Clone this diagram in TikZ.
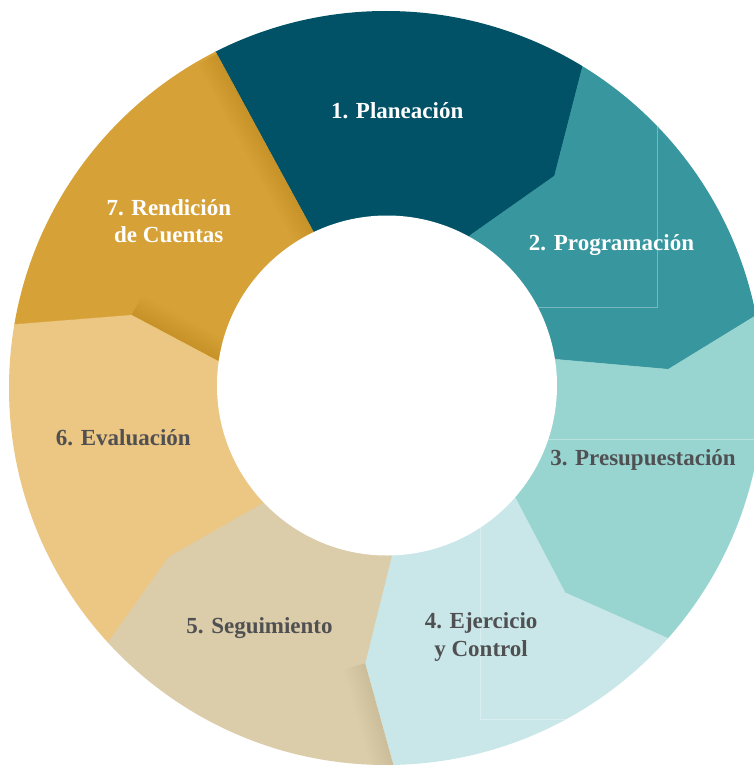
\documentclass[tikz,border=0pt]{standalone}
\usepackage{fontspec}
\setmainfont{Liberation Serif}
\usetikzlibrary{calc}
\definecolor{cone}{HTML}{015267}
\definecolor{ctwo}{HTML}{37969E}
\definecolor{cthree}{HTML}{98D5D1}
\definecolor{cfour}{HTML}{C9E7E8}
\definecolor{cfive}{HTML}{DBCDAA}
\definecolor{csix}{HTML}{ECC683}
\definecolor{cseven}{HTML}{D6A238}
\definecolor{labgray}{HTML}{505052}
\begin{document}
\begin{tikzpicture}[x=1pt,y=-1pt,
  seglabel/.style={font=\bfseries\fontsize{23}{27.7}\selectfont, align=center, anchor=base, inner sep=0pt},
  lightlab/.style={seglabel, text=white},
  darklab/.style={seglabel, text=labgray},
  faintline/.style={draw=white, draw opacity=0.32, line width=0.6pt},
  shadowline/.style={draw=black, draw opacity=0.0045, line width=#1, line join=round, line cap=butt},
  segfill/.style={fill=#1, draw=#1, line width=0.4pt, line join=round}]
\useasboundingbox (0,0) rectangle (754,765);
\coordinate (O) at (386,388);
\coordinate (IC) at (387,385.5);
% boundaries: inner, bend, outer
\coordinate (i71) at (313.3,231.7); \coordinate (b71) at (265,143); \coordinate (o71) at (216.7,54);
\coordinate (i12) at (470,235.5);   \coordinate (b12) at (554.5,176);  \coordinate (o12) at (581.7,70);
\coordinate (i23) at (555,359.3);   \coordinate (b23) at (668.3,369.3);\coordinate (o23) at (756,315.5);
\coordinate (i34) at (515,497.3);   \coordinate (b34) at (565,592.7);  \coordinate (o34) at (670,639.3);
\coordinate (i45) at (391.7,556);   \coordinate (b45) at (365,663.3);  \coordinate (o45) at (393.3,765);
\coordinate (i56) at (261.7,503.3); \coordinate (b56) at (168.3,556.7);\coordinate (o56) at (106.7,643.3);
\coordinate (i67) at (218.3,360.7); \coordinate (b67) at (131.7,314.7);\coordinate (o67) at (15,324);
\foreach \n in {71,12,23,34,45,56,67} {\coordinate (f\n) at ($(o\n)!-150pt!(b\n)$);}
\coordinate (F1) at (400,-400);
\coordinate (F2) at (900,-100);
\coordinate (F3) at (1000,500);
\coordinate (F4) at (700,1000);
\coordinate (F5) at (200,1000);
\coordinate (F6) at (-300,550);
\coordinate (F7) at (-250,-100);
\begin{scope}
  \clip (O) circle[radius=377pt];
  \path[segfill=cone]   (O) -- (i71) -- (b71) -- (o71) -- (f71) -- (F1) -- (f12) -- (o12) -- (b12) -- (i12) -- cycle;
  \path[segfill=ctwo]   (O) -- (i12) -- (b12) -- (o12) -- (f12) -- (F2) -- (f23) -- (o23) -- (b23) -- (i23) -- cycle;
  \path[segfill=cthree] (O) -- (i23) -- (b23) -- (o23) -- (f23) -- (F3) -- (f34) -- (o34) -- (b34) -- (i34) -- cycle;
  \path[segfill=cfour]  (O) -- (i34) -- (b34) -- (o34) -- (f34) -- (F4) -- (f45) -- (o45) -- (b45) -- (i45) -- cycle;
  \path[segfill=cfive]  (O) -- (i45) -- (b45) -- (o45) -- (f45) -- (F5) -- (f56) -- (o56) -- (b56) -- (i56) -- cycle;
  \path[segfill=csix]   (O) -- (i56) -- (b56) -- (o56) -- (f56) -- (F6) -- (f67) -- (o67) -- (b67) -- (i67) -- cycle;
  \path[segfill=cseven] (O) -- (i67) -- (b67) -- (o67) -- (f67) -- (F7) -- (f71) -- (o71) -- (b71) -- (i71) -- cycle;
  % soft shadows along some boundaries
  \begin{scope}
    \clip (O) -- (i67) -- (b67) -- (o67) -- (f67) -- (F7) -- (f71) -- (o71) -- (b71) -- (i71) -- cycle;
    \foreach \w in {3,6,...,45} {
      \draw[shadowline=\w pt] (i71) -- (b71) -- (o71);
      \draw[shadowline=\w pt] (i67) -- (b67);
    }
  \end{scope}
  \begin{scope}
    \clip (O) -- (i45) -- (b45) -- (o45) -- (f45) -- (F5) -- (f56) -- (o56) -- (b56) -- (i56) -- cycle;
    \foreach \w in {3,6,...,45} {
      \draw[shadowline=\w pt] (b45) -- (o45);
    }
  \end{scope}
  % faint guide lines
  \coordinate (g2a) at (657.7,90); \coordinate (g2b) at (657.7,307.3); \coordinate (g2c) at (500,307.3);
  \coordinate (g3a) at (500,439.3); \coordinate (g3b) at (800,439.3);
  \coordinate (g4a) at (480.3,500); \coordinate (g4b) at (480.3,719.3); \coordinate (g4c) at (650,719.3);
  \draw[faintline] (g2a) -- (g2b) -- (g2c);
  \draw[faintline] (g3a) -- (g3b);
  \draw[faintline] (g4a) -- (g4b) -- (g4c);
\end{scope}
\fill[white] (IC) circle[radius=170pt];
\node[lightlab] (t1) at (397.2,118.3) {1. Planeación};
\node[lightlab] (t2) at (611.5,250.7) {2. Programación};
\node[darklab]  (t3) at (643,465.7) {3. Presupuestación};
\node[darklab]  (t4) at (481.1,656) {4. Ejercicio\\y Control};
\node[darklab]  (t5) at (259.5,633.3) {5. Seguimiento};
\node[darklab]  (t6) at (123.3,445.7) {6. Evaluación};
\node[lightlab] (t7) at (168.8,242.7) {7. Rendición\\de Cuentas};
\end{tikzpicture}
\end{document}
